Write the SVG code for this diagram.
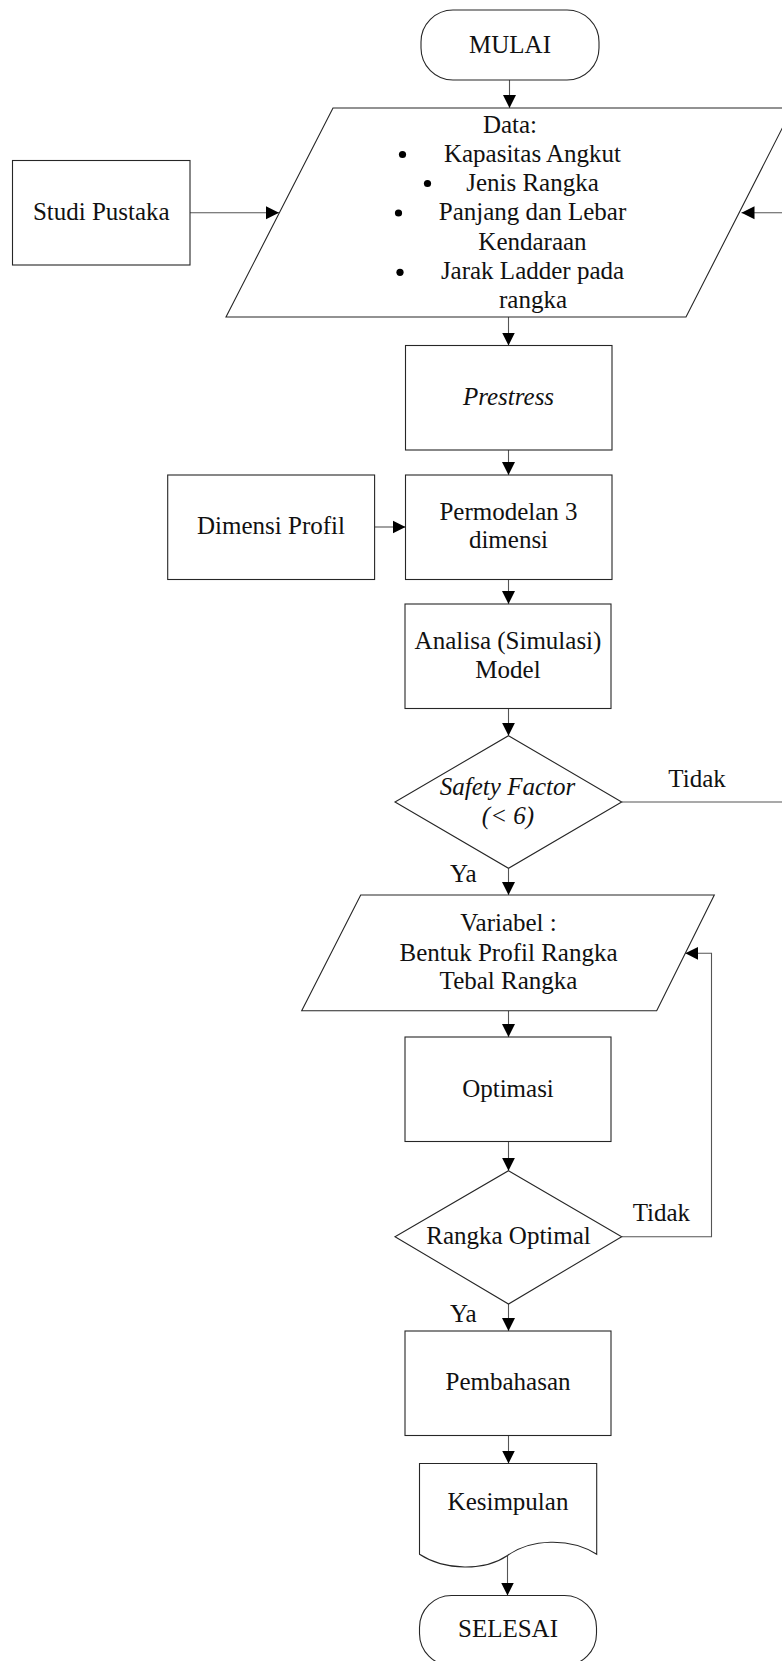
<svg xmlns="http://www.w3.org/2000/svg" width="782" height="1661" viewBox="0 0 782 1661">
<style>
.s{fill:#fff;stroke:#262626;stroke-width:1.1}
.c{fill:none;stroke:#555;stroke-width:1.1}
text{font-family:"Liberation Serif","Times New Roman",serif;font-size:25px;fill:#111}
.m{text-anchor:middle}
.i{font-style:italic}
</style>
<defs>
<marker id="a" markerUnits="userSpaceOnUse" markerWidth="14" markerHeight="14" viewBox="0 0 14 14" refX="13" refY="7" orient="auto">
<path d="M0,0.5 L13,7 L0,13.5 Z" fill="#000"/>
</marker>
</defs>
<rect width="782" height="1661" fill="#fff"/>
<g id="connectors">
<path class="c" d="M509.5,80 V108" marker-end="url(#a)"/>
<path class="c" d="M508.5,317 V345.5" marker-end="url(#a)"/>
<path class="c" d="M508.5,450 V475" marker-end="url(#a)"/>
<path class="c" d="M508.5,579.5 V604" marker-end="url(#a)"/>
<path class="c" d="M508.5,708.5 V735.7" marker-end="url(#a)"/>
<path class="c" d="M508.5,868.3 V895" marker-end="url(#a)"/>
<path class="c" d="M508.5,1010.7 V1037" marker-end="url(#a)"/>
<path class="c" d="M508.5,1141.5 V1170.7" marker-end="url(#a)"/>
<path class="c" d="M508.5,1304 V1331" marker-end="url(#a)"/>
<path class="c" d="M508.5,1435.5 V1463.5" marker-end="url(#a)"/>
<path class="c" d="M507.5,1556 V1595.5" marker-end="url(#a)"/>
<path class="c" d="M190,212.7 H279" marker-end="url(#a)"/>
<path class="c" d="M374.6,527 H405.5" marker-end="url(#a)"/>
<path class="c" d="M621.7,802 H795 V212.7 H741.5" marker-end="url(#a)"/>
<path class="c" d="M621.7,1236.7 H711.5 V953.3 H685.3" marker-end="url(#a)"/>
<text x="668.3" y="786.7">Tidak</text>
<text x="632.7" y="1221">Tidak</text>
<text x="450" y="882.3">Ya</text>
<text x="450" y="1322.3">Ya</text>
</g>
<g id="mulai">
<rect class="s" x="421" y="10" width="178" height="70" rx="32" ry="32"/>
<text class="m" x="510" y="53.3">MULAI</text>
</g>
<g id="data">
<polygon class="s" points="333,108 792.5,108 686,317 226,317"/>
<text class="m" x="510" y="132.7">Data:</text>
<circle cx="402.5" cy="154.5" r="3.6" fill="#000"/>
<text class="m" x="532.5" y="161.7">Kapasitas Angkut</text>
<circle cx="427.5" cy="183.5" r="3.6" fill="#000"/>
<text class="m" x="532.5" y="190.7">Jenis Rangka</text>
<circle cx="398.5" cy="213" r="3.6" fill="#000"/>
<text class="m" x="532.5" y="220">Panjang dan Lebar</text>
<text class="m" x="532.5" y="250">Kendaraan</text>
<circle cx="400" cy="272.3" r="3.6" fill="#000"/>
<text class="m" x="532.5" y="279.3">Jarak Ladder pada</text>
<text class="m" x="533" y="308.3">rangka</text>
</g>
<g id="studi">
<rect class="s" x="12.5" y="160.5" width="177.5" height="104.5"/>
<text class="m" x="101.3" y="220">Studi Pustaka</text>
</g>
<g id="prestress">
<rect class="s" x="405.5" y="345.5" width="206.5" height="104.5"/>
<text class="m i" x="508.5" y="405">Prestress</text>
</g>
<g id="dimensi">
<rect class="s" x="167.7" y="475" width="206.9" height="104.5"/>
<text class="m" x="271" y="534">Dimensi Profil</text>
</g>
<g id="permodelan">
<rect class="s" x="405.5" y="475" width="206.5" height="104.5"/>
<text class="m" x="508.5" y="520">Permodelan 3</text>
<text class="m" x="508.5" y="548.3">dimensi</text>
</g>
<g id="analisa">
<rect class="s" x="405" y="604" width="206" height="104.5"/>
<text class="m" x="508" y="649.3">Analisa (Simulasi)</text>
<text class="m" x="508" y="678.3">Model</text>
</g>
<g id="safety">
<polygon class="s" points="508.5,735.7 621.7,802 508.5,868.3 395,802"/>
<text class="m i" x="507.5" y="795">Safety Factor</text>
<text class="m i" x="508" y="824">(&lt; 6)</text>
</g>
<g id="variabel">
<polygon class="s" points="360.7,895 714.3,895 656.7,1010.7 301.7,1010.7"/>
<text class="m" x="508.5" y="931">Variabel :</text>
<text class="m" x="508.5" y="960.7">Bentuk Profil Rangka</text>
<text class="m" x="508.5" y="989.3">Tebal Rangka</text>
</g>
<g id="optimasi">
<rect class="s" x="405" y="1037" width="206" height="104.5"/>
<text class="m" x="508" y="1096.7">Optimasi</text>
</g>
<g id="rangka-optimal">
<polygon class="s" points="508.5,1170.7 621.7,1236.7 508.5,1304 395,1236.7"/>
<text class="m" x="508.5" y="1244">Rangka Optimal</text>
</g>
<g id="pembahasan">
<rect class="s" x="405" y="1331" width="206" height="104.5"/>
<text class="m" x="508" y="1390">Pembahasan</text>
</g>
<g id="kesimpulan">
<path class="s" d="M419.5,1463.5 H596.7 V1554.3 C570,1537 530,1539 507.5,1555.5 C485,1571 445,1571 419.5,1554.3 Z"/>
<text class="m" x="508" y="1510">Kesimpulan</text>
</g>
<g id="selesai">
<rect class="s" x="419.5" y="1595.5" width="177" height="70" rx="32" ry="32"/>
<text class="m" x="508" y="1636.7">SELESAI</text>
</g>
</svg>
